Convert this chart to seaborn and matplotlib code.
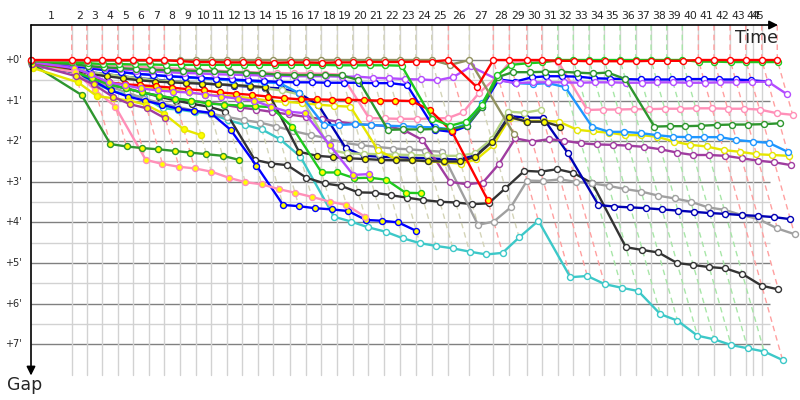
import numpy as np
import pandas as pd
import matplotlib
matplotlib.use("Agg")
import matplotlib.pyplot as plt
import seaborn as sns

# ---------------- data ----------------
LAP_LABELS = [str(k) for k in range(1, 46)]
# leader's cumulative race time (minutes) at the end of laps 0..45
LEADER_TIME = [0.00, 3.57, 4.89, 6.25, 7.61, 8.97, 10.35, 11.69, 13.07, 14.45, 15.79,
               17.17, 18.54, 19.89, 21.25, 22.72, 24.10, 25.44, 26.87, 28.22, 29.59,
               30.96, 32.37, 33.75, 35.15, 36.61, 38.45, 40.55, 41.96, 43.48, 44.80,
               46.20, 47.57, 48.95, 50.29, 51.67, 53.04, 54.39, 55.76, 57.13, 58.54,
               59.91, 61.32, 62.69, 64.10, 65.46]
FINISH_LINE = 63.36
GAP_TICKS = [0, 1, 2, 3, 4, 5, 6, 7]

# gap to leader in minutes, lap 0 onward
cyan = [0.12, 0.3, 0.55, 0.75, 0.86, 0.92, 1.19, 1.22, 1.28, 1.32, 1.48, 1.6, 1.71, 1.95, 2.38,
        3.86, 3.98, 4.12, 4.23, 4.39, 4.51, 4.58, 4.64, 4.72, 4.79, 4.75, 4.37, 3.96, 5.35, 5.32,
        5.52, 5.61, 5.69, 6.26, 6.42, 6.79, 6.88, 7.02, 7.1, 7.18, 7.39]
black = [0.1, 0.3, 0.45, 0.6, 0.7, 0.8, 0.9, 1.0, 1.08, 1.15, 1.27,
         2.46, 2.55, 2.59, 2.9, 3.04, 3.1, 3.26, 3.27, 3.33, 3.39, 3.45, 3.49, 3.51, 3.55, 3.53,
         3.16, 2.73, 2.75, 2.69, 2.78, 3.04, 4.61, 4.68, 4.74, 5.0, 5.05, 5.1, 5.13, 5.27, 5.56, 5.65]
gray = [0.1, 0.3, 0.5, 0.65, 0.8, 0.95, 1.07, 1.15, 1.25, 1.32, 1.4, 1.48, 1.54, 1.64, 1.75, 1.85,
        1.93, 2.04, 2.1, 2.14, 2.18, 2.2, 2.23, 2.26,
        4.06, 3.98, 3.63, 2.97, 2.98, 2.94, 3.0, 3.04, 3.1, 3.18, 3.24, 3.34, 3.41, 3.49, 3.63, 3.69,
        3.82, 3.92, 4.15, 4.29]
navy = [0.06, 0.2, 0.3, 0.35, 0.4, 0.45, 0.48, 0.52, 0.55, 0.58, 0.6, 0.63, 0.66, 0.68, 0.7, 0.82,
        1.11, 2.17, 2.36, 2.38, 2.4, 2.41, 2.42, 2.44, 2.45, 2.35, 2.0, 1.38, 1.42, 1.42, 2.3, 3.57,
        3.61, 3.63, 3.65, 3.68, 3.71, 3.74, 3.77, 3.79, 3.82, 3.84, 3.87, 3.92]
purple = [0.08, 0.3, 0.45, 0.6, 0.7, 0.8, 0.88, 0.95, 1.0, 1.05, 1.1, 1.17, 1.22, 1.28, 1.34, 1.4, 1.46,
          1.52, 1.58, 1.6, 1.63, 1.72, 1.97, 3.0, 3.06, 3.02, 2.57, 1.93,
          2.01, 1.95, 1.99, 2.05, 2.08, 2.09, 2.11, 2.14, 2.2, 2.28, 2.34, 2.34, 2.36, 2.42, 2.48, 2.52, 2.59]
yellow = [0.1, 0.3, 0.45, 0.55, 0.6, 0.65, 0.7, 0.75, 0.8, 0.85, 0.88, 0.9, 0.95, 1.0, 1.03, 1.06,
          1.1, 1.13, 1.15, 2.22, 2.45, 2.47, 2.5, 2.52, 2.55, 2.45, 2.1, 1.43, 1.5, 1.5, 1.52, 1.72,
          1.76, 1.79, 1.85, 1.85, 1.89, 2.01, 2.09, 2.13, 2.22, 2.26, 2.32, 2.34, 2.36]
palegreen = [0.05, 0.2, 0.3, 0.35, 0.4, 0.45, 0.5, 0.52, 0.55, 0.57, 0.6, 0.62, 0.65, 0.7, 0.75,
             0.85, 2.22, 2.3, 2.31, 2.32, 2.33, 2.34, 2.35, 2.36, 2.36, 2.3, 1.95, 1.27, 1.3, 1.23]
black_y = [0.05, 0.25, 0.35, 0.4, 0.45, 0.5, 0.53, 0.55, 0.57, 0.58, 0.6, 0.62, 0.64, 0.67,
           2.26, 2.36, 2.39, 2.42, 2.44, 2.46, 2.47, 2.47, 2.49, 2.5, 2.5, 2.38, 2.01, 1.4, 1.52, 1.52, 1.64]
skyblue = [0.07, 0.14, 0.2, 0.25, 0.3, 0.34, 0.37, 0.4, 0.43, 0.45, 0.48, 0.5, 0.52, 0.55, 0.57,
           0.82, 1.6, 1.6, 1.58, 1.6, 1.62, 1.63, 1.65, 1.66, 1.71, 1.58, 1.07, 0.49, 0.57, 0.59,
           0.57, 0.67, 1.64, 1.77, 1.77, 1.8, 1.85, 1.89, 1.9, 1.9, 1.9, 1.97, 2.01, 2.04, 2.26]
pink = [0.04, 0.08, 0.1, 0.12, 0.14, 0.16, 0.18, 0.2, 0.22, 0.24, 0.26, 0.28, 0.3, 0.31, 0.32, 0.33,
        0.33, 0.34, 0.36, 1.43, 1.44, 1.45, 1.45, 1.44, 1.43, 1.29, 0.82, 0.4, 0.05, 0.03, 0.03, 0.04,
        1.23, 1.22, 1.22, 1.21, 1.21, 1.2, 1.2, 1.19, 1.19, 1.2, 1.2, 1.22, 1.31, 1.35]
blue = [0.08, 0.15, 0.2, 0.25, 0.3, 0.34, 0.37, 0.4, 0.42, 0.44, 0.46, 0.48, 0.5, 0.52, 0.54, 0.55,
        0.55, 0.56, 0.56, 0.56, 0.57, 0.57, 0.62, 1.72, 1.77, 1.63, 1.15, 0.48, 0.53,
        0.43, 0.4, 0.4, 0.41, 0.45, 0.46, 0.47, 0.48, 0.48, 0.48, 0.47, 0.47, 0.48, 0.48, 0.5, 0.53]
violet = [0.05, 0.12, 0.16, 0.2, 0.23, 0.26, 0.28, 0.3, 0.32, 0.33, 0.35, 0.36, 0.37, 0.38, 0.39, 0.4,
          0.4, 0.4, 0.41, 0.41, 0.44, 0.45, 0.47, 0.48, 0.5, 0.42, 0.16, 0.5, 0.57,
          0.55, 0.55, 0.55, 0.56, 0.55, 0.55, 0.56, 0.56, 0.55, 0.55, 0.56, 0.56, 0.55, 0.55, 0.54, 0.53, 0.84]
darkgreen = [0.05, 0.1, 0.15, 0.18, 0.2, 0.22, 0.24, 0.25, 0.26, 0.27, 0.28, 0.3, 0.31, 0.33, 0.36,
             0.37, 0.37, 0.37, 0.38, 0.49, 1.72, 1.71, 1.71, 1.7, 1.7, 1.62, 1.15, 0.42, 0.3, 0.3,
             0.29, 0.29, 0.31, 0.33, 0.31, 0.47, 1.64, 1.63, 1.63, 1.62, 1.6, 1.59, 1.59, 1.58, 1.56]
red_y = [0.05, 0.3, 0.45, 0.55, 0.6, 0.62, 0.65, 0.68, 0.72, 0.75, 0.8, 0.83, 0.86, 0.9, 0.94, 0.97,
         0.97, 0.98, 0.98, 0.99, 1.0, 1.0, 1.01, 1.23, 1.75, 3.45]
blue_y = [0.15, 0.3, 0.5, 0.75, 0.9, 1.0, 1.1, 1.2, 1.25, 1.3, 1.72, 2.6, 3.57, 3.6, 3.65, 3.68, 3.72,
          3.94, 3.96, 4.0, 4.21]
green_y = [0.1, 0.3, 0.45, 0.6, 0.7, 0.8, 0.88, 0.95, 1.0, 1.07, 1.1, 1.12, 1.14, 1.16, 1.64, 2.77,
           2.77, 2.91, 2.9, 2.95, 3.27, 3.28]
violet_y = [0.05, 0.2, 0.35, 0.55, 0.62, 0.7, 0.75, 0.78, 0.8, 0.85, 0.9, 0.95, 1.0, 1.15, 1.27,
            1.31, 2.1, 2.83, 2.81]
pink_y = [0.15, 0.29, 0.74, 1.15, 2.46, 2.56, 2.63, 2.67, 2.75, 2.9, 3.01, 3.06, 3.18, 3.27, 3.37,
          3.49, 3.57, 3.86]
dkgreen_y = [0.1, 0.86, 2.07, 2.13, 2.17, 2.2, 2.24, 2.28, 2.32, 2.36, 2.46]
yellow_y = [0.2, 0.55, 0.89, 0.94, 1.0, 1.1, 1.33, 1.71, 1.85]
purple_y = [0.1, 0.4, 0.6, 0.9, 1.09, 1.19, 1.44]
green = [0.03, 0.06, 0.08, 0.1, 0.1, 0.11, 0.11, 0.12, 0.12, 0.12, 0.12, 0.12, 0.12, 0.12, 0.12,
         0.12, 0.12, 0.12, 0.13, 0.13, 0.13, 0.13, 0.14, 1.45, 1.62, 1.52, 1.1, 0.37, 0.12, 0.08,
         0.06, 0, 0, 0, 0, 0, 0, 0, 0, 0, 0.04, 0.04, 0.05, 0.05, 0.05, 0.05]
olive = [0.01, 0.02, 0.02, 0.02, 0.02, 0.02, 0.02, 0.02, 0, 0, 0, 0, 0, 0, 0, 0, 0, 0, 0, 0, 0,
         0, 0, 0, 0, 0.12, 0, 1.83]
red = [0, 0, 0, 0, 0, 0, 0, 0, 0.03, 0.05, 0.05, 0.06, 0.06, 0.06, 0.07, 0.06, 0.06, 0.07, 0.06,
       0.06, 0.05, 0.05, 0.05, 0.04, 0.04, 0, 0.67, 0, 0, 0, 0, 0.02, 0.02, 0.03, 0.03, 0.03, 0.03,
       0.02, 0.02, 0.02, 0, 0, 0, 0, 0, 0]

# (name, gaps, line colour, marker face)  -- drawing order: back to front
DRIVERS = [
    ("cyan", cyan, "#3cc8c8", "white"),
    ("black", black, "#333333", "white"),
    ("gray", gray, "#a0a0a0", "white"),
    ("navy", navy, "#0000b4", "white"),
    ("purple", purple, "#a03ca0", "white"),
    ("palegreen", palegreen, "#b4d282", "white"),
    ("yellow", yellow, "#e6e600", "white"),
    ("black_y", black_y, "#333333", "#ffff00"),
    ("skyblue", skyblue, "#1e96ff", "white"),
    ("pink", pink, "#ff8fb8", "white"),
    ("blue", blue, "#0000ff", "white"),
    ("violet", violet, "#b44cff", "white"),
    ("darkgreen", darkgreen, "#2e962e", "white"),
    ("red_y", red_y, "#ff0000", "#ffff00"),
    ("blue_y", blue_y, "#0000ff", "#ffff00"),
    ("green_y", green_y, "#1ec81e", "#ffff00"),
    ("violet_y", violet_y, "#b44cff", "#ffff00"),
    ("pink_y", pink_y, "#ff8fb8", "#ffff00"),
    ("dkgreen_y", dkgreen_y, "#2e962e", "#ffff00"),
    ("yellow_y", yellow_y, "#e6e600", "#ffff00"),
    ("purple_y", purple_y, "#a03ca0", "#ffff00"),
    ("green", green, "#1ec81e", "white"),
    ("olive", olive, "#91915f", "white"),
    ("red", red, "#ff0000", "white"),
]
LEADER_DASH = {"red": "#ffa0a0", "olive": "#d4d4b8", "green": "#a8e6a8"}

# ---------------- long table ----------------
rows = []
for name, gaps, col, face in DRIVERS:
    for lap, g in enumerate(gaps):
        rows.append(dict(driver=name, lap=lap, gap=g, time=LEADER_TIME[lap] + g))
df = pd.DataFrame(rows)

# ---------------- figure ----------------
sns.set_style("white")
plt.rcParams["font.family"] = ["DejaVu Sans"]
fig = plt.figure(figsize=(8, 4), dpi=100)
ax = fig.add_axes([0, 0, 1, 1])
PX_PER_MIN_X = 11.4
PX_PER_MIN_Y = 40.6
ax.set_xlim(-31 / PX_PER_MIN_X, 769 / PX_PER_MIN_X)
ax.set_ylim(340 / PX_PER_MIN_Y, -60 / PX_PER_MIN_Y)
ax.axis("off")

y_top = -35 / PX_PER_MIN_Y
y_bot = 315 / PX_PER_MIN_Y
x_grid_end = 739 / PX_PER_MIN_X

# horizontal grid
for h in np.arange(0, 7.01, 0.5):
    major = abs(h - round(h)) < 1e-6
    ax.plot([0, x_grid_end], [h, h], color="#808080" if major else "#d2d2d2",
            lw=1.0, zorder=1, solid_capstyle="butt")
# vertical lap grid
for t in LEADER_TIME[1:45] + [FINISH_LINE]:
    ax.plot([t, t], [y_top, y_bot], color="#d2d2d2", lw=1.0, zorder=1)

# dashed same-lap lines, coloured after the lap leader
for lap in range(1, 46):
    lap_df = df[df.lap == lap]
    lead = lap_df.loc[lap_df.gap.idxmin()]
    gmax = lap_df.gap.max()
    t = LEADER_TIME[lap]
    ax.plot([t, t + lead.gap, t + gmax], [y_top, lead.gap, gmax],
            color=LEADER_DASH.get(lead.driver, "#ffa0a0"), lw=1.0,
            ls=(0, (4, 3)), zorder=2)

# driver lines
for i, (name, gaps, col, face) in enumerate(DRIVERS):
    sub = df[df.driver == name]
    sns.lineplot(data=sub, x="time", y="gap", sort=False, estimator=None, errorbar=None,
                 color=col, lw=1.7, marker="o", markersize=4.3,
                 markerfacecolor=face, markeredgecolor=col, markeredgewidth=1.0,
                 ax=ax, legend=False, zorder=3 + i * 0.01)
ax.axis("off")

# axes with arrows
ax.annotate("", xy=(747 / PX_PER_MIN_X, y_top), xytext=(0, y_top),
            arrowprops=dict(arrowstyle="-|>", color="black", lw=1.2, mutation_scale=13,
                            shrinkA=0, shrinkB=0), zorder=6)
ax.annotate("", xy=(0, 315.5 / PX_PER_MIN_Y), xytext=(0, y_top),
            arrowprops=dict(arrowstyle="-|>", color="black", lw=1.2, mutation_scale=13,
                            shrinkA=0, shrinkB=0), zorder=6)
ax.text(747 / PX_PER_MIN_X, -31 / PX_PER_MIN_Y, "Time", ha="right", va="top", fontsize=12.5)
ax.text(-6 / PX_PER_MIN_X, 316 / PX_PER_MIN_Y, "Gap", ha="center", va="top", fontsize=12.5)

# lap labels
for k, lab in enumerate(LAP_LABELS, start=1):
    if k < 45:
        xc = (LEADER_TIME[k - 1] + LEADER_TIME[k]) / 2
    else:
        xc = (FINISH_LINE + LEADER_TIME[44]) / 2
    ax.text(xc, -44 / PX_PER_MIN_Y, lab, ha="center", va="center", fontsize=7.8)

# gap labels
for m in GAP_TICKS:
    ax.text(-9 / PX_PER_MIN_X, m, f"+{m}'", ha="right", va="center", fontsize=7)

fig.savefig("out.png", dpi=100)
